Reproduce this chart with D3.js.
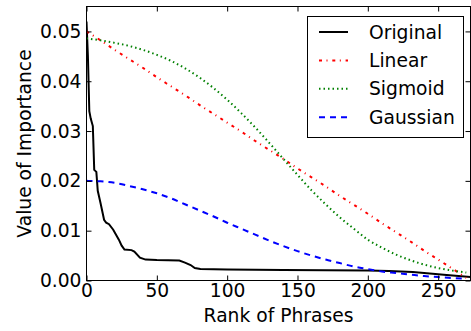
<!DOCTYPE html>
<html>
<head>
<meta charset="utf-8">
<script src="https://cdn.jsdelivr.net/npm/d3@7"></script>
<style>
  body { margin: 0; background: #fff; }
  svg { display: block; font-family: 'DejaVu Sans', sans-serif; }
</style>
</head>
<body>
<svg id="chart" width="471" height="331"></svg>
<script>
// Original (measured) importance curve
const origRank = [0, 1, 2, 3, 4.5, 5.5, 7, 8, 10, 12.5, 14, 16, 19, 23, 25, 27, 32, 34, 38, 42, 50, 66, 70, 74, 77, 81, 100, 140, 200, 215, 232, 256, 273]
const origValue = [0.0520, 0.0450, 0.0340, 0.0325, 0.0310, 0.0222, 0.0218, 0.0180, 0.0155, 0.0122, 0.0116, 0.0113, 0.0102, 0.0082, 0.0070, 0.0062, 0.0061, 0.0058, 0.0046, 0.0042, 0.0041, 0.0040, 0.0036, 0.0031, 0.0025, 0.0023, 0.0022, 0.0021, 0.0020, 0.0019, 0.0017, 0.0011, 0.0007]

// Rank positions for the fitted curves
const ranks = [0, 10, 20, 30, 40, 50, 60, 70, 80, 90, 100, 110, 120, 130, 140, 150, 160, 170, 180, 190, 200, 210, 220, 230, 240, 250, 260, 270]
const linearValue = [0.0500, 0.0482, 0.0463, 0.0445, 0.0427, 0.0408, 0.0390, 0.0372, 0.0353, 0.0335, 0.0317, 0.0299, 0.0280, 0.0262, 0.0244, 0.0225, 0.0207, 0.0189, 0.0170, 0.0152, 0.0134, 0.0115, 0.0097, 0.0079, 0.0060, 0.0042, 0.0024, 0.0005]
const sigmoidValue = [0.0486, 0.0482, 0.0477, 0.0471, 0.0463, 0.0453, 0.0441, 0.0426, 0.0408, 0.0387, 0.0363, 0.0336, 0.0307, 0.0276, 0.0244, 0.0212, 0.0181, 0.0153, 0.0127, 0.0104, 0.0082, 0.0066, 0.0052, 0.0041, 0.0032, 0.0025, 0.0020, 0.0016]
const gaussianValue = [0.0200, 0.0199, 0.0196, 0.0190, 0.0183, 0.0175, 0.0165, 0.0153, 0.0141, 0.0129, 0.0116, 0.0104, 0.0092, 0.0080, 0.0069, 0.0059, 0.0050, 0.0042, 0.0035, 0.0028, 0.0023, 0.0018, 0.0015, 0.0012, 0.0009, 0.0007, 0.0005, 0.0004]

const xTicks = [0, 50, 100, 150, 200, 250]
const yTicks = [0, 0.01, 0.02, 0.03, 0.04, 0.05]
const seriesNames = ['Original', 'Linear', 'Sigmoid', 'Gaussian']

const styles = {
	Original: { color: '#000000', dash: null },
	Linear: { color: '#ff0000', dash: '3,4.5,1,4.8' },
	Sigmoid: { color: '#008000', dash: '1.5,3' },
	Gaussian: { color: '#0000ff', dash: '6,5' }
}

const svg = d3.select('#chart')
const plotLeft = 86.5, plotRight = 470.5, plotTop = 6.5, plotBottom = 280.5
const fontSize = 18.7

const x = d3.scaleLinear().domain([0, 273]).range([plotLeft, plotRight])
const y = d3.scaleLinear().domain([0, 0.055]).range([plotBottom, plotTop])

// clip for the curves
svg.append('clipPath').attr('id', 'clip')
	.append('rect')
	.attr('x', plotLeft).attr('y', plotTop)
	.attr('width', plotRight - plotLeft).attr('height', plotBottom - plotTop)

const series = [
	{ name: 'Original', pts: origRank.map((r, i) => [r, origValue[i]]) },
	{ name: 'Linear', pts: ranks.map((r, i) => [r, linearValue[i]]) },
	{ name: 'Sigmoid', pts: ranks.map((r, i) => [r, sigmoidValue[i]]) },
	{ name: 'Gaussian', pts: ranks.map((r, i) => [r, gaussianValue[i]]) }
]

const line = d3.line()
	.x(d => x(d[0]))
	.y(d => y(d[1]))

const curveLine = d3.line()
	.x(d => x(d[0]))
	.y(d => y(d[1]))
	.curve(d3.curveMonotoneX)

const g = svg.append('g').attr('clip-path', 'url(#clip)')
g.selectAll('path')
	.data(series)
	.enter()
	.append('path')
	.attr('d', d => d.name === 'Original' ? line(d.pts) : curveLine(d.pts))
	.attr('fill', 'none')
	.attr('stroke', d => styles[d.name].color)
	.attr('stroke-width', 2)
	.attr('stroke-dasharray', d => styles[d.name].dash)

// Axes (ticks inward on all sides, matplotlib classic)
const tickLen = 5
const xAxisB = d3.axisBottom(x).tickValues(xTicks).tickSizeInner(-tickLen).tickSizeOuter(0).tickPadding(3.5).tickFormat(d3.format('d'))
const xAxisT = d3.axisTop(x).tickValues(xTicks).tickSizeInner(-tickLen).tickSizeOuter(0).tickFormat('')
const yAxisL = d3.axisLeft(y).tickValues(yTicks).tickSizeInner(-tickLen).tickSizeOuter(0).tickPadding(5).tickFormat(d3.format('.2f'))
const yAxisR = d3.axisRight(y).tickValues(yTicks).tickSizeInner(-tickLen).tickSizeOuter(0).tickFormat('')

const axes = [
	svg.append('g').attr('transform', `translate(0,${plotBottom})`).call(xAxisB),
	svg.append('g').attr('transform', `translate(0,${plotTop})`).call(xAxisT),
	svg.append('g').attr('transform', `translate(${plotLeft},0)`).call(yAxisL),
	svg.append('g').attr('transform', `translate(${plotRight},0)`).call(yAxisR)
]
axes.forEach(a => {
	a.select('.domain').remove()
	a.selectAll('line').attr('stroke', '#000')
	a.selectAll('text')
		.attr('fill', '#000')
		.style('font-size', fontSize + 'px')
		.style('font-family', "'DejaVu Sans', sans-serif")
})

// frame
svg.append('rect')
	.attr('x', plotLeft).attr('y', plotTop)
	.attr('width', plotRight - plotLeft).attr('height', plotBottom - plotTop)
	.attr('fill', 'none')
	.attr('stroke', '#000')
	.attr('stroke-width', 1)

// axis labels
svg.append('text')
	.attr('x', (plotLeft + plotRight) / 2)
	.attr('y', 322)
	.attr('text-anchor', 'middle')
	.style('font-size', fontSize + 'px')
	.text('Rank of Phrases')

svg.append('text')
	.attr('transform', `translate(31,${(plotTop + plotBottom) / 2}) rotate(-90)`)
	.attr('text-anchor', 'middle')
	.style('font-size', fontSize + 'px')
	.text('Value of Importance')

// legend
const legend = svg.append('g')
legend.append('rect')
	.attr('x', 307.5).attr('y', 16.5)
	.attr('width', 156).attr('height', 121)
	.attr('fill', '#fff')
	.attr('stroke', '#000')
	.attr('stroke-width', 1)

const items = legend.selectAll('.item')
	.data(seriesNames)
	.enter()
	.append('g')
	.attr('class', 'item')
	.attr('transform', (d, i) => `translate(0,${32 + i * 28.4})`)

items.append('line')
	.attr('x1', 319).attr('x2', 348)
	.attr('stroke', d => styles[d].color)
	.attr('stroke-width', 2)
	.attr('stroke-dasharray', d => styles[d].dash)

items.append('text')
	.attr('x', 369)
	.attr('dy', '0.35em')
	.style('font-size', fontSize + 'px')
	.text(d => d)
</script>
</body>
</html>
